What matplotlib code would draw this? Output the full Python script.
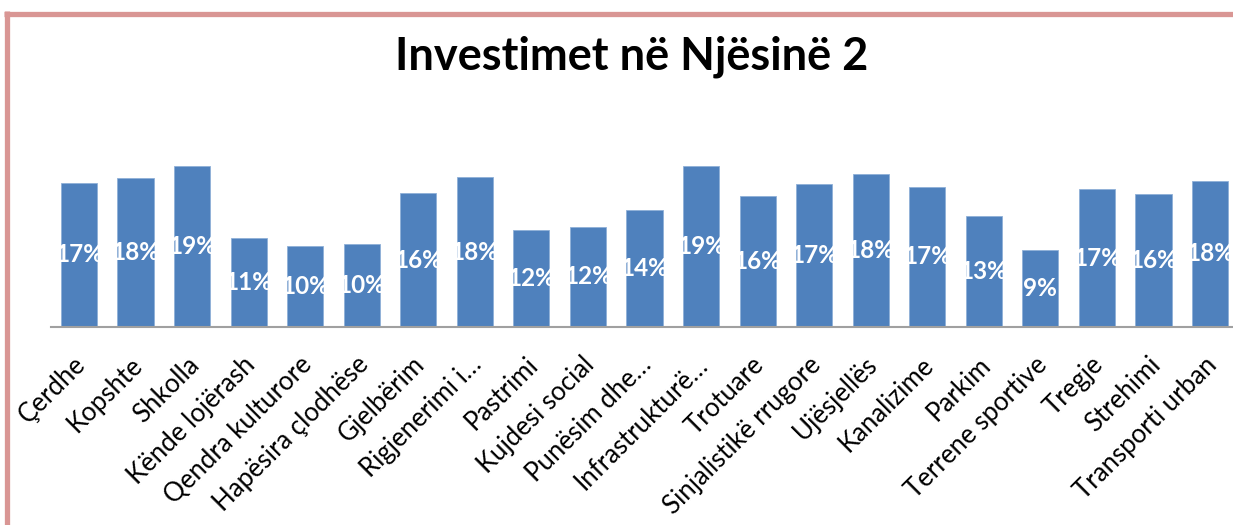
import matplotlib
matplotlib.use("Agg")
import matplotlib.pyplot as plt
from matplotlib.lines import Line2D
from matplotlib.transforms import ScaledTranslation

categories = ["Çerdhe", "Kopshte", "Shkolla", "Kënde lojërash", "Qendra kulturore",
              "Hapësira çlodhëse", "Gjelbërim", "Rigjenerimi i…", "Pastrimi",
              "Kujdesi social", "Punësim dhe…", "Infrastrukturë…", "Trotuare",
              "Sinjalistikë rrugore", "Ujësjellës", "Kanalizime", "Parkim",
              "Terrene sportive", "Tregje", "Strehimi", "Transporti urban"]
values = [17.35, 17.95, 19.4, 10.7, 9.76, 10.0, 16.1, 18.07, 11.7, 12.05, 14.1,
          19.4, 15.8, 17.2, 18.4, 16.9, 13.4, 9.3, 16.6, 16.0, 17.6]
title = "Investimet në Njësinë 2"

W, H = 1233, 525
fig = plt.figure(figsize=(W / 100, H / 100), dpi=100)
fig.patch.set_facecolor("white")

# frame lines (pink border)
border = "#d99694"
fig.add_artist(Line2D([6.5 / W, 6.5 / W], [0, 1 - 11 / H], transform=fig.transFigure,
                      color=border, lw=3.8, solid_capstyle="butt"))
fig.add_artist(Line2D([4 / W, 1], [1 - 13.5 / H, 1 - 13.5 / H], transform=fig.transFigure,
                      color=border, lw=3.8, solid_capstyle="butt"))

left_px, right_px = 50.7, 1238.3
base_px, top_px = 327, 327 - 20 * 8.3
ax = fig.add_axes([left_px / W, (H - base_px) / H, (right_px - left_px) / W,
                   (base_px - top_px) / H])
ax.set_facecolor("none")
x = list(range(len(categories)))
bars = ax.bar(x, values, width=0.64, color="#4f81bd", edgecolor="#8fb0d8", linewidth=0.6)
ax.set_xlim(-0.5, len(categories) - 0.5)
ax.set_ylim(0, 20)
for s in ["top", "right", "left"]:
    ax.spines[s].set_visible(False)
ax.spines["bottom"].set_color("#a0a0a0")
ax.spines["bottom"].set_linewidth(1.5)
ax.set_yticks([])
ax.set_xticks(x)
ax.set_xticklabels(categories, rotation=45, ha="right", rotation_mode="anchor",
                   fontsize=18.5, family="Lato")
ax.tick_params(axis="x", length=0, pad=18)
offset = ScaledTranslation(-6 / 100, 0, fig.dpi_scale_trans)
for lbl in ax.get_xticklabels():
    lbl.set_transform(lbl.get_transform() + offset)

for xi, v in zip(x, values):
    ax.text(xi, v / 2, f"{round(v)}%", ha="center", va="center", color="white",
            fontsize=17.5, fontweight="bold", family="Lato")

fig.text(632 / W, 1 - 57 / H, title, ha="center", va="center", fontsize=32.5,
         fontweight="bold", family="Lato")

fig.savefig("out.png", dpi=100)
